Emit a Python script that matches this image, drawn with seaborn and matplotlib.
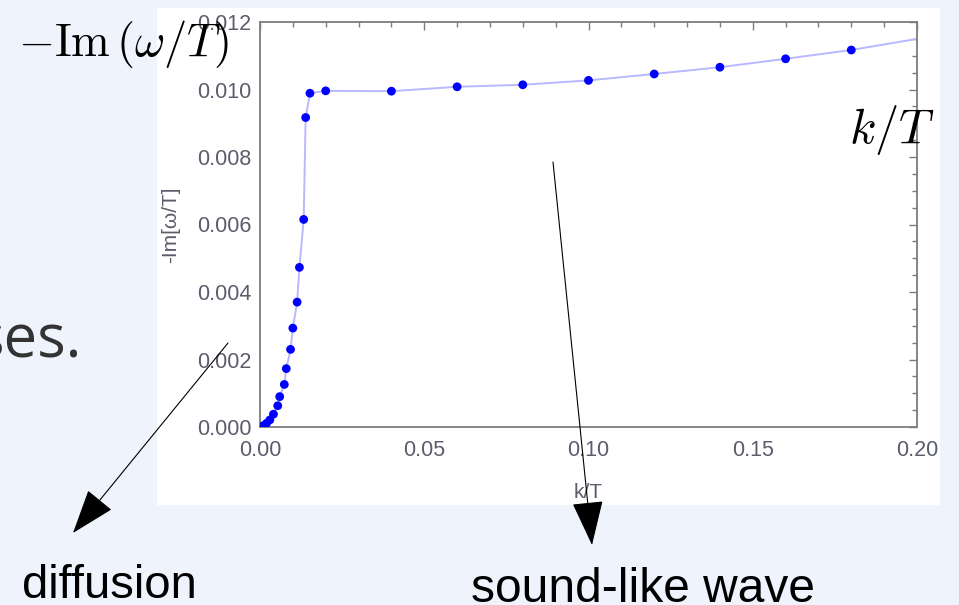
import matplotlib
matplotlib.use("Agg")
import matplotlib.pyplot as plt
import seaborn as sns
import numpy as np
import pandas as pd
from matplotlib.patches import Rectangle, FancyArrowPatch
from matplotlib.ticker import MultipleLocator, FormatStrFormatter

# data
k_pts = [0.0010, 0.0020, 0.0030, 0.0041, 0.0054, 0.0060, 0.0074, 0.0080,
         0.0093, 0.0100, 0.0113, 0.0120, 0.0133, 0.0139, 0.0152, 0.0200,
         0.0400, 0.0600, 0.0800, 0.1000, 0.1200, 0.1400, 0.1600, 0.1800]
im_pts = [0.00004, 0.00011, 0.00021, 0.00038, 0.00063, 0.00090, 0.00126, 0.00173,
          0.00230, 0.00293, 0.00370, 0.00473, 0.00615, 0.00917, 0.00989, 0.00996,
          0.00995, 0.01008, 0.01014, 0.01027, 0.01046, 0.01066, 0.01091, 0.01117]
# interpolating curve also runs from the origin to the right edge
k_start, im_start = [0.0], [0.0]
k_end, im_end = [0.20], [0.01150]

xticks = [0.00, 0.05, 0.10, 0.15, 0.20]
yticks = [0.000, 0.002, 0.004, 0.006, 0.008, 0.010, 0.012]

pts = pd.DataFrame({"k": k_pts, "im": im_pts})
curve = pd.DataFrame({"k": k_start + k_pts + k_end, "im": im_start + im_pts + im_end})

W, H = 959, 605
sns.set_style("white")
plt.rcParams["font.family"] = ["Liberation Sans", "DejaVu Sans"]
plt.rcParams["mathtext.fontset"] = "cm"

fig = plt.figure(figsize=(W / 100, H / 100), dpi=100, facecolor="#eef3fc")

def fx(px):
    return px / W

def fy(py):
    return 1 - py / H

# white panel behind the plot (pasted image on the slide)
fig.add_artist(Rectangle((fx(157), fy(505)), fx(940) - fx(157), fy(8) - fy(505),
                         transform=fig.transFigure, facecolor="white",
                         edgecolor="none", zorder=0))

ax = fig.add_axes([fx(260), fy(427), fx(917) - fx(260), fy(22) - fy(427)])
ax.set_facecolor("white")

sns.lineplot(data=curve, x="k", y="im", sort=False, color="#b8b8ff",
             linewidth=1.4, ax=ax, zorder=2)
sns.scatterplot(data=pts, x="k", y="im", color="#0000ff", s=40,
                edgecolor="none", ax=ax, zorder=3)

ax.set_xlim(0, 0.20)
ax.set_ylim(0, 0.012)
ax.set_xticks(xticks)
ax.set_yticks(yticks)
ax.xaxis.set_minor_locator(MultipleLocator(0.01))
ax.yaxis.set_minor_locator(MultipleLocator(0.0005))
ax.xaxis.set_major_formatter(FormatStrFormatter("%.2f"))
ax.yaxis.set_major_formatter(FormatStrFormatter("%.3f"))

gray = "#7c7c7c"
lab = "#5c5c6c"
for s in ax.spines.values():
    s.set_visible(True)
    s.set_color(gray)
    s.set_linewidth(1.3)
ax.tick_params(which="both", direction="in", top=True, right=True,
               color=gray, width=1.0)
ax.tick_params(which="major", length=6, labelsize=15.5, labelcolor=lab)
ax.tick_params(axis="x", which="major", pad=9)
ax.tick_params(axis="y", which="major", pad=6)
ax.tick_params(which="minor", length=3.5)

ax.set_xlabel("k/T", fontsize=15, color=lab, labelpad=16)
ax.set_ylabel("-Im[\u03c9/T]", fontsize=15, color=lab, labelpad=12)

# slide annotations
fig.text(fx(18), fy(44), r"$-\mathrm{Im}\,(\omega/T)$", fontsize=33.5,
         ha="left", va="center", color="black", zorder=5)
fig.text(fx(849), fy(130), r"$k/T$", fontsize=35, ha="left", va="center",
         color="black", zorder=5)
fig.text(fx(82), fy(357), "ses.", fontsize=43, ha="right", va="baseline",
         color="#333333", family="Open Sans")
fig.text(fx(22), fy(598), "diffusion", fontsize=34, ha="left",
         va="baseline", color="black")
fig.text(fx(471), fy(602), "sound-like wave", fontsize=34.5, ha="left",
         va="baseline", color="black")

for start, tip in [((228, 343), (73, 533)), ((553, 162), (592, 545))]:
    fig.add_artist(FancyArrowPatch((fx(start[0]), fy(start[1])),
                                   (fx(tip[0]), fy(tip[1])),
                                   transform=fig.transFigure,
                                   arrowstyle="-|>,head_length=1.2,head_width=0.42",
                                   mutation_scale=24, color="black",
                                   linewidth=0.8, shrinkA=0, shrinkB=0,
                                   zorder=6))

fig.savefig("out.png", dpi=100, facecolor=fig.get_facecolor())
